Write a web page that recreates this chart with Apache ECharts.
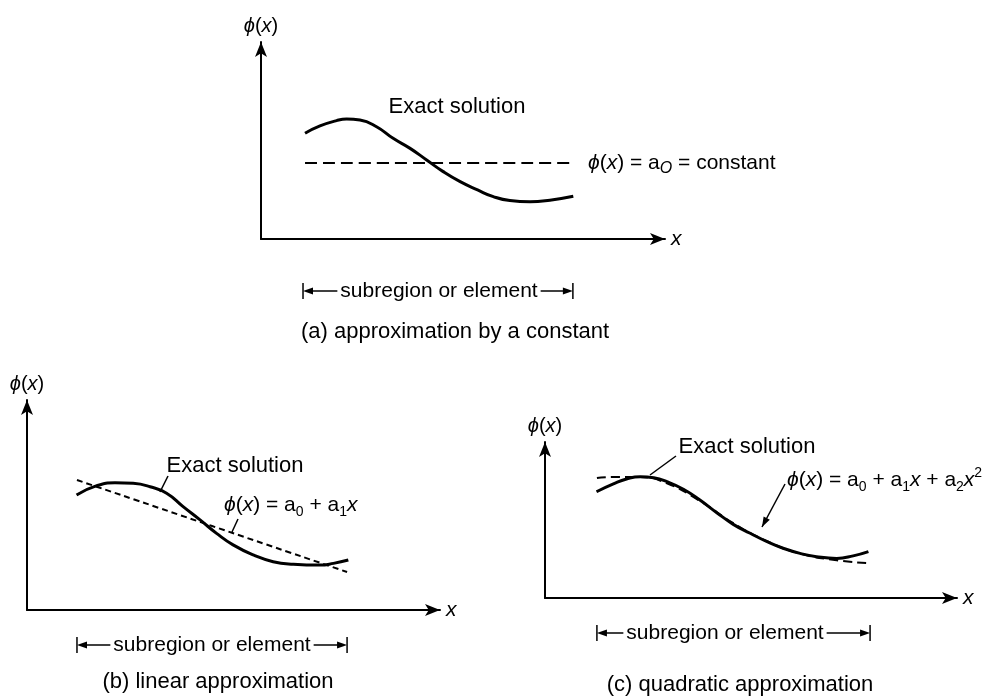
<!DOCTYPE html>
<html><head><meta charset="utf-8">
<script src="https://cdn.jsdelivr.net/npm/echarts@6/dist/echarts.min.js"></script>
<style>html,body{margin:0;padding:0;background:#fff}#c{width:1002px;height:696px}</style>
</head><body><div id="c"></div>
<script>
// ---- data (axis units 0..10 in each panel) ----
const exactA = [[1.09,5.37],[1.46,5.74],[1.87,6.01],[2.12,6.09],[2.45,6.04],[2.86,5.70],[3.27,5.11],[3.69,4.60],[4.10,4.01],[4.51,3.42],[4.93,2.91],[5.36,2.49],[5.75,2.15],[6.16,1.95],[6.66,1.89],[7.15,1.97],[7.73,2.17]];
const approxA = [[1.09,3.86],[7.67,3.86]];
const exactB = [[1.20,5.48],[1.69,5.92],[2.13,6.06],[2.57,6.03],[2.98,5.87],[3.38,5.56],[3.78,4.92],[4.19,4.29],[4.59,3.65],[4.99,3.10],[5.48,2.62],[5.96,2.30],[6.45,2.18],[7.09,2.14],[7.42,2.22],[7.78,2.38]];
const approxB = [[1.21,6.19],[7.75,1.81]];
const exactC = [[1.25,6.81],[1.66,7.31],[1.98,7.63],[2.31,7.78],[2.64,7.71],[2.96,7.46],[3.36,6.97],[3.76,6.28],[4.17,5.47],[4.57,4.72],[4.98,4.15],[5.39,3.61],[5.78,3.19],[6.19,2.86],[6.59,2.65],[7.08,2.54],[7.48,2.70],[7.85,2.97]];
const approxC = [[1.26,7.69],[1.66,7.76],[2.31,7.75],[2.96,7.35],[3.76,6.22],[4.57,4.80],[5.39,3.64],[6.19,2.85],[7.08,2.42],[7.84,2.24]];
const elementA = [1.04, 7.72];
const elementB = [1.21, 7.75];
const elementC = [1.26, 7.89];
const exactLabel = 'Exact solution';
const elementLabel = 'subregion or element';
const captions = ['(a) approximation by a constant', '(b) linear approximation', '(c) quadratic approximation'];
const formulas = [
  '{i|ϕ}({i|x}) = a{subi|O} = constant',
  '{i|ϕ}({i|x}) = a{sub|0} + a{sub|1}{i|x}',
  '{i|ϕ}({i|x}) = a{sub|0} + a{sub|1}{i|x} + a{sub|2}{i|x}{sup|2}'
];

const FONT = '"Liberation Sans", Arial, sans-serif';
const rich = {
  i: {fontFamily: FONT, fontSize: 21, fontStyle: 'italic', lineHeight: 28, color: '#000'},
  sub: {fontFamily: FONT, fontSize: 14, lineHeight: 14, verticalAlign: 'bottom', color: '#000'},
  subi: {fontFamily: FONT, fontSize: 16, fontStyle: 'italic', lineHeight: 14, verticalAlign: 'bottom', color: '#000'},
  sup: {fontFamily: FONT, fontSize: 14, lineHeight: 14, verticalAlign: 'top', color: '#000'}
};

const grids = [
  {left: 261, top: 42, width: 404, height: 197},
  {left: 27, top: 400, width: 413, height: 210},
  {left: 545, top: 442, width: 412, height: 156}
];

function xAx(i){ return {gridIndex:i, type:'value', min:0, max:10, name:'x', nameLocation:'end', nameGap:6,
  nameTextStyle:{fontFamily:FONT, fontSize:21, fontStyle:'italic', color:'#000', verticalAlign:'middle'},
  axisLine:{show:true, symbol:['none','arrow'], symbolSize:[9,15], lineStyle:{color:'#000', width:2}},
  axisTick:{show:false}, axisLabel:{show:false}, splitLine:{show:false}}; }
function yAx(i){ return {gridIndex:i, type:'value', min:0, max:10, name:'{i|ϕ}({i|x})', nameLocation:'end', nameGap:6,
  nameTextStyle:{fontFamily:FONT, fontSize:20, color:'#000', align:'center', rich:{i:{fontFamily:FONT, fontSize:20, fontStyle:'italic', color:'#000'}}},
  axisLine:{show:true, symbol:['none','arrow'], symbolSize:[9,15], lineStyle:{color:'#000', width:2}},
  axisTick:{show:false}, axisLabel:{show:false}, splitLine:{show:false}}; }

function exactSeries(i, d){ return {type:'line', xAxisIndex:i, yAxisIndex:i, data:d, smooth:0.5, showSymbol:false, silent:true,
  lineStyle:{color:'#000', width:3}}; }
function approxSeries(i, d, dash){ return {type:'line', xAxisIndex:i, yAxisIndex:i, data:d, smooth:0.5, showSymbol:false, silent:true,
  lineStyle:{color:'#000', width:2, type:dash}}; }

const chart = echarts.init(document.getElementById('c'), null, {renderer:'canvas'});
chart.setOption({
  backgroundColor:'#fff',
  animation:false,
  grid: grids,
  xAxis: [xAx(0), xAx(1), xAx(2)],
  yAxis: [yAx(0), yAx(1), yAx(2)],
  series: [
    approxSeries(0, approxA, [12,6]), exactSeries(0, exactA),
    approxSeries(1, approxB, [6,4]), exactSeries(1, exactB),
    approxSeries(2, approxC, [9,5]), exactSeries(2, exactC)
  ]
});

// ---- annotations ----
const ctx = document.createElement('canvas').getContext('2d');
function textW(t, size){ ctx.font = size + 'px ' + FONT; return ctx.measureText(t).width; }

const g = [];
function text(t, x, y, size, align){
  g.push({type:'text', z:100, x:x, y:y, style:{text:t, fontFamily:FONT, fontSize:size, fill:'#000', align:align||'center', verticalAlign:'middle'}});
}
function formula(t, x, y){
  g.push({type:'text', z:100, x:x, y:y, style:{text:t, fontFamily:FONT, fontSize:21, lineHeight:28, fill:'#000', align:'left', verticalAlign:'middle', rich:rich}});
}
function line(x1,y1,x2,y2,w){
  g.push({type:'line', z:100, shape:{x1:x1,y1:y1,x2:x2,y2:y2}, style:{stroke:'#000', lineWidth:w||1.5}});
}
function arrowHead(tx,ty,fx,fy,len,half){
  const dx=tx-fx, dy=ty-fy, L=Math.hypot(dx,dy), ux=dx/L, uy=dy/L;
  const bx=tx-ux*len, by=ty-uy*len;
  g.push({type:'polygon', z:100, shape:{points:[[tx,ty],[bx-uy*half,by+ux*half],[bx+uy*half,by-ux*half]]}, style:{fill:'#000'}});
}
function bracket(gi, range, y, textCenter){
  const x0 = chart.convertToPixel({gridIndex:gi}, [range[0],0])[0];
  const x1 = chart.convertToPixel({gridIndex:gi}, [range[1],0])[0];
  const w = textW(elementLabel, 21);
  const tl = textCenter - w/2 - 3, tr = textCenter + w/2 + 3;
  text(elementLabel, textCenter, y, 21);
  line(x0, y-8, x0, y+8, 1.5);
  line(x1, y-8, x1, y+8, 1.5);
  line(x0+8, y, tl, y, 1.5);
  line(tr, y, x1-8, y, 1.5);
  arrowHead(x0, y, x0+10, y, 10, 3.5);
  arrowHead(x1, y, x1-10, y, 10, 3.5);
}

// panel a
text(exactLabel, 457, 107, 22);
formula(formulas[0], 588, 163);
bracket(0, elementA, 291, 439);
text(captions[0], 455, 332, 22);
// panel b
text(exactLabel, 235, 466, 22);
line(168, 476, 160, 492, 1.5);
formula(formulas[1], 224, 505);
line(238, 519, 232, 532, 1.5);
bracket(1, elementB, 645, 212);
text(captions[1], 218, 682, 22);
// panel c
text(exactLabel, 747, 447, 22);
line(676, 456, 650, 475, 1.5);
formula(formulas[2], 787, 480);
line(785, 484, 762, 527, 1.5);
arrowHead(762, 527, 785, 484, 10, 3.5);
bracket(2, elementC, 633, 725);
text(captions[2], 740, 685, 22);

chart.setOption({graphic: g});
</script>
</body></html>
